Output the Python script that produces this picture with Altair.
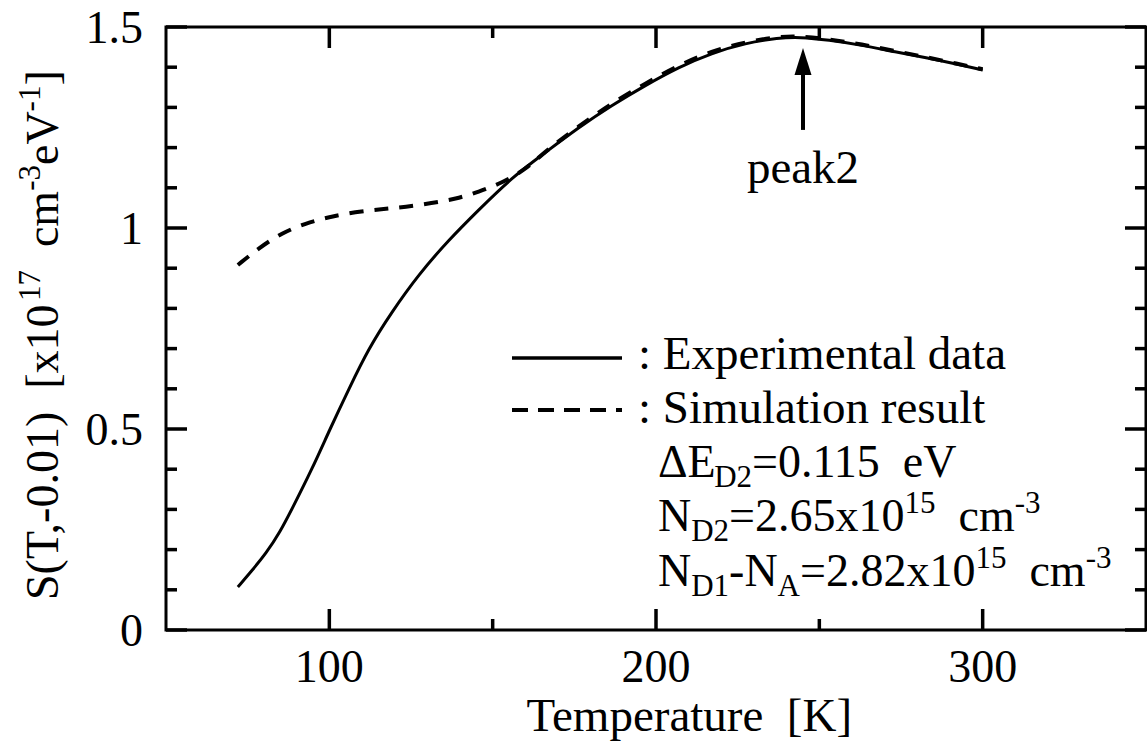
import altair as alt
import pandas as pd

# ---- data ----
T_EXP = [72, 76, 80.6, 85, 88.5, 94.7, 100.2, 106, 112, 119, 127.4, 136.5, 145.7, 155.8,
         166, 176.3, 186.4, 196.8, 206.9, 217, 227.4, 237.5, 244, 252.8, 263, 273.2, 283.3, 292, 300]
S_EXP = [0.107, 0.145, 0.19, 0.245, 0.30, 0.40, 0.50, 0.60, 0.70, 0.79, 0.885, 0.97, 1.045, 1.125,
         1.187, 1.25, 1.305, 1.355, 1.40, 1.435, 1.46, 1.473, 1.475, 1.468, 1.455, 1.438, 1.423, 1.408, 1.393]
T_SIM = [72, 78.4, 85.5, 92.8, 99.8, 108, 116, 123.4, 131.3, 138.7, 145.7, 152.8, 160,
         166, 176.3, 186.4, 196.8, 206.9, 217, 227.4, 237.5, 244, 252.8, 263, 273.2, 283.3, 292, 300]
S_SIM = [0.908, 0.95, 0.988, 1.012, 1.027, 1.04, 1.047, 1.052, 1.062, 1.072, 1.09, 1.112, 1.145,
         1.19, 1.253, 1.31, 1.36, 1.405, 1.44, 1.463, 1.476, 1.477, 1.47, 1.457, 1.44, 1.424, 1.409, 1.395]

X_MAJOR = [100, 200, 300]
X_LABELS = ["100", "200", "300"]
X_MINOR = [150, 250]
Y_MAJOR = [0, 0.5, 1.0, 1.5]
Y_LABELS = ["0", "0.5", "1", "1.5"]
Y_MINOR = [0.1, 0.2, 0.3, 0.4, 0.6, 0.7, 0.8, 0.9, 1.1, 1.2, 1.3, 1.4]

PEAK_T = 245
PEAK_LABEL = "peak2"
PEAK_LABEL_S = 1.112
ARROW_S = [1.244, 1.39]
ARROW_HEAD_S = 1.414

X_TITLE = "Temperature\u00a0\u00a0[K]"
LEG1 = ": Experimental data"
LEG2 = ": Simulation result"
# (text, role) ; role n = normal, b = subscript, p = superscript
LINE3 = [("\u0394E", "n"), ("D2", "b"), ("=0.115\u00a0\u00a0eV", "n")]
LINE4 = [("N", "n"), ("D2", "b"), ("=2.65x10", "n"), ("15", "p"), ("\u00a0\u00a0cm", "n"), ("-3", "p")]
LINE5 = [("N", "n"), ("D1", "b"), ("-N", "n"), ("A", "b"), ("=2.82x10", "n"), ("15", "p"),
         ("\u00a0\u00a0cm", "n"), ("-3", "p")]
Y_TITLE = [("S(T,-0.01)\u00a0\u00a0[x10", "n"), ("17", "p"), ("\u00a0\u00a0cm", "n"), ("-3", "p"),
           ("eV", "n"), ("-1", "p"), ("]", "n")]

# ---- layout ----
W, H = 980, 603
LEFT, TOP = 166, 27
X0, X1, Y0, Y1 = 50, 350, 0, 1.5
FONT = "Liberation Serif"
FS, SS, TS = 46, 31, 46
SUB_DY, SUP_DY = 10, -18
MAJ, MIN = 21, 11

WID = {"\u0394": 611, "E": 611, "D": 722, "N": 722, "A": 722, "V": 722, "S": 556, "T": 611, "K": 722,
       "=": 564, ".": 250, " ": 250, "\u00a0": 250, "e": 444, "x": 500, "c": 444, "m": 778,
       "-": 333, "(": 333, ")": 333, ",": 250, "[": 333, "]": 333, "p": 500, "r": 333, "a": 444,
       "t": 278, "u": 500}


def width(s, size):
    return sum(WID.get(ch, 500) for ch in s) / 1000 * size


def to_t(sx):
    return X0 + (sx - LEFT) * (X1 - X0) / W


def to_s(sy):
    return Y0 + (H - (sy - TOP)) * (Y1 - Y0) / H


rows = []


def horiz(segs, x0, base, size_n=FS):
    x = x0
    for s, role in segs:
        size = size_n if role == "n" else SS
        dy = 0 if role == "n" else (SUB_DY if role == "b" else SUP_DY)
        core = s.lstrip("\u00a0 ")
        x += width(s[:len(s) - len(core)], size)
        rows.append({"T": to_t(x), "S": to_s(base + dy), "txt": core, "fs": size, "ang": 0})
        x += width(core, size)


def vert(segs, xb, y0):
    y = y0
    for s, role in segs:
        size = FS if role == "n" else SS
        dx = 0 if role == "n" else (SUB_DY if role == "b" else SUP_DY)
        core = s.lstrip("\u00a0 ")
        y -= width(s[:len(s) - len(core)], size)
        rows.append({"T": to_t(xb + dx), "S": to_s(y), "txt": core, "fs": size, "ang": 270})
        y -= width(core, size)


horiz([(LEG1, "n")], 638, 369, 47)
horiz([(LEG2, "n")], 638, 423, 47)
horiz(LINE3, 658, 477)
horiz(LINE4, 658, 531)
horiz(LINE5, 658, 586)
horiz([(X_TITLE, "n")], 691 - width(X_TITLE, 47) / 2, 731, 47)
vert(Y_TITLE, 58, 600)
ann = pd.DataFrame(rows)

xs = alt.Scale(domain=[X0, X1], nice=False, zero=False)
ys = alt.Scale(domain=[Y0, Y1], nice=False, zero=False)


def enc(xf="T", yf="S"):
    return dict(x=alt.X(f"{xf}:Q", scale=xs, axis=None), y=alt.Y(f"{yf}:Q", scale=ys, axis=None))


exp_df = pd.DataFrame({"T": T_EXP, "S": S_EXP})
sim_df = pd.DataFrame({"T": T_SIM, "S": S_SIM})

exp_line = alt.Chart(exp_df).mark_line(color="black", strokeWidth=3, interpolate="basis").encode(**enc())
sim_line = alt.Chart(sim_df).mark_line(color="black", strokeWidth=4, strokeDash=[14, 11],
                                       interpolate="basis").encode(**enc())


def xticks(vals, length):
    d = pd.DataFrame({"T": vals})
    b = alt.Chart(d).mark_rule(color="black", strokeWidth=3.5).encode(
        x=alt.X("T:Q", scale=xs, axis=None), y=alt.value(H), y2=alt.value(H - length))
    t = alt.Chart(d).mark_rule(color="black", strokeWidth=3.5).encode(
        x=alt.X("T:Q", scale=xs, axis=None), y=alt.value(0), y2=alt.value(length))
    return [b, t]


def yticks(vals, length):
    d = pd.DataFrame({"S": vals})
    l = alt.Chart(d).mark_rule(color="black", strokeWidth=3.5).encode(
        y=alt.Y("S:Q", scale=ys, axis=None), x=alt.value(0), x2=alt.value(length))
    r = alt.Chart(d).mark_rule(color="black", strokeWidth=3.5).encode(
        y=alt.Y("S:Q", scale=ys, axis=None), x=alt.value(W), x2=alt.value(W - length))
    return [l, r]


ticks = xticks(X_MAJOR, MAJ) + xticks(X_MINOR, MIN) + yticks(Y_MAJOR, MAJ) + yticks(Y_MINOR, MIN)

# tick labels drawn as text
xlab_df = pd.DataFrame({"T": X_MAJOR, "S": [to_s(682)] * len(X_MAJOR), "txt": X_LABELS})
ylab_df = pd.DataFrame({"T": [to_t(143)] * len(Y_MAJOR),
                        "S": [v - 16 * (Y1 - Y0) / H for v in Y_MAJOR], "txt": Y_LABELS})
xlab = alt.Chart(xlab_df).mark_text(font=FONT, fontSize=TS, color="black", align="center",
                                    baseline="alphabetic").encode(text="txt:N", **enc())
ylab = alt.Chart(ylab_df).mark_text(font=FONT, fontSize=TS, color="black", align="right",
                                    baseline="alphabetic").encode(text="txt:N", **enc())

arrow_df = pd.DataFrame({"T": [PEAK_T], "s1": [ARROW_S[0]], "s2": [ARROW_S[1]]})
shaft = alt.Chart(arrow_df).mark_rule(color="black", strokeWidth=4).encode(
    x=alt.X("T:Q", scale=xs, axis=None), y=alt.Y("s1:Q", scale=ys, axis=None), y2="s2:Q")
head = alt.Chart(pd.DataFrame({"T": [PEAK_T], "S": [ARROW_HEAD_S]})).mark_point(
    shape="M0,-1L0.63,1L-0.63,1Z", filled=True, size=729, color="black", opacity=1, strokeWidth=0
).encode(**enc())
peak_txt = alt.Chart(pd.DataFrame({"T": [PEAK_T], "S": [PEAK_LABEL_S], "txt": [PEAK_LABEL]})).mark_text(
    font=FONT, fontSize=47, color="black", align="center", baseline="alphabetic"
).encode(text="txt:N", **enc())

leg_solid = alt.Chart(pd.DataFrame({"k": [0]})).mark_rule(color="black", strokeWidth=3.5).encode(
    x=alt.value(512 - LEFT), x2=alt.value(622 - LEFT), y=alt.value(358 - TOP))
leg_dash = alt.Chart(pd.DataFrame({"k": [0]})).mark_rule(color="black", strokeWidth=4,
                                                        strokeDash=[16, 10]).encode(
    x=alt.value(512 - LEFT), x2=alt.value(622 - LEFT), y=alt.value(410 - TOP))

texts = alt.Chart(ann).mark_text(font=FONT, color="black", align="left", baseline="alphabetic").encode(
    text="txt:N",
    size=alt.Size("fs:Q", scale=None, legend=None),
    angle=alt.Angle("ang:Q", scale=None),
    **enc(),
)

chart = alt.layer(exp_line, sim_line, *ticks, xlab, ylab, shaft, head, peak_txt, leg_solid, leg_dash,
                  texts).properties(
    width=W, height=H,
    padding={"left": LEFT, "top": TOP, "right": 1, "bottom": 744 - TOP - H},
    autosize=alt.AutoSizeParams(type="none"),
    background="white",
).configure_view(stroke="black", strokeWidth=3)

chart.save("out.html", embed_options={"renderer": "svg", "actions": False})
